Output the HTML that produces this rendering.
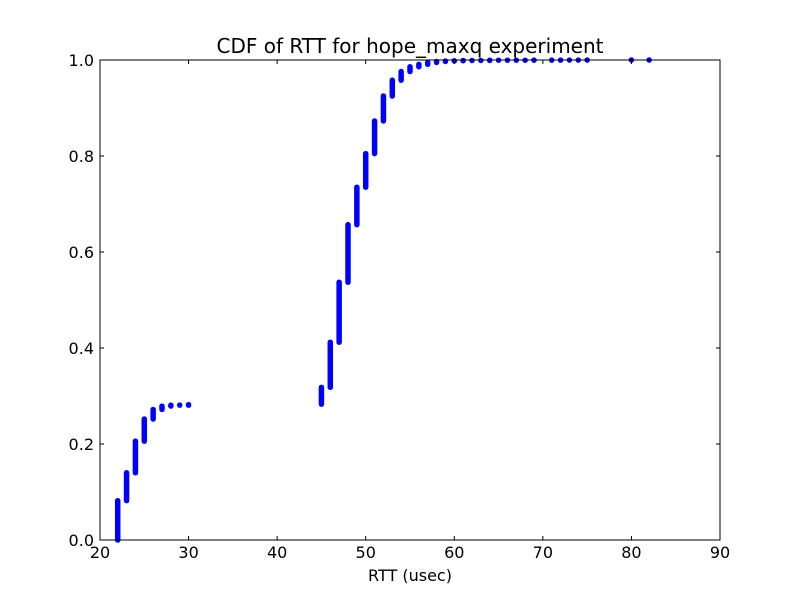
<!DOCTYPE html>
<html><head><style>body{margin:0;background:#fff}svg{display:block}text{font-family:"DejaVu Sans",sans-serif}</style></head>
<body>
<svg id="c" width="800" height="600">
<rect x="0" y="0" width="800" height="600" fill="#fff"/>
<g id="marks"></g>
<rect x="100" y="60" width="620" height="480" fill="none" stroke="#000" stroke-width="1"/>
<g id="ticks"></g>
<text x="410" y="53" font-size="20" text-anchor="middle">CDF of RTT for hope_maxq experiment</text>
<text x="410" y="581" font-size="16" text-anchor="middle">RTT (usec)</text>
</svg>
<script>
const rtt=[22,23,24,25,26,27,28,29,30,45,46,47,48,49,50,51,52,53,54,55,56,57,58,59,60,61,62,63,64,65,66,67,68,69,71,72,73,74,75,80,82];
const cdfLow=[0,0.082,0.14,0.206,0.252,0.272,0.279,0.281,0.281,0.283,0.318,0.412,0.537,0.657,0.735,0.805,0.873,0.925,0.958,0.976,0.986,0.991,0.995,0.997,0.998,0.9985,0.999,0.999,0.999,0.9995,0.9995,0.9995,0.9995,0.9995,0.9997,0.9997,0.9998,0.9998,0.9998,0.9999,1];
const cdfHigh=[0.082,0.14,0.206,0.252,0.272,0.279,0.281,0.281,0.282,0.318,0.412,0.537,0.657,0.735,0.805,0.873,0.925,0.958,0.976,0.986,0.991,0.995,0.997,0.998,0.9985,0.999,0.999,0.999,0.9995,0.9995,0.9995,0.9995,0.9995,0.9997,0.9997,0.9998,0.9998,0.9998,0.9999,1,1];
const xTicks=[20,30,40,50,60,70,80,90];
const yTicks=[0,0.2,0.4,0.6,0.8,1.0];
const NS='http://www.w3.org/2000/svg';
const X=v=>100+(v-20)/70*620, Y=v=>540-v*480;
const m=document.getElementById('marks'), t=document.getElementById('ticks');
function mk(tag,a,p){const e=document.createElementNS(NS,tag);for(const k in a)e.setAttribute(k,a[k]);p.appendChild(e);return e;}
rtt.forEach((r,i)=>{
 const l=mk('line',{x1:X(r),x2:X(r),y1:Y(cdfLow[i]),y2:Y(cdfHigh[i]),stroke:'#0000ff','stroke-width':5.5,'stroke-linecap':'round'},m);
 
 
});
xTicks.forEach(v=>{
 const x=X(v);
 mk('line',{x1:x,x2:x,y1:540,y2:536,stroke:'#000'},t);
 mk('line',{x1:x,x2:x,y1:60,y2:64,stroke:'#000'},t);
 const tx=mk('text',{x:x,y:558,'font-size':16,'text-anchor':'middle'},t);tx.textContent=v;
 
 
});
yTicks.forEach(v=>{
 const y=Y(v);
 mk('line',{x1:100,x2:104,y1:y,y2:y,stroke:'#000'},t);
 mk('line',{x1:716,x2:720,y1:y,y2:y,stroke:'#000'},t);
 const tx=mk('text',{x:94,y:y+6,'font-size':16,'text-anchor':'end'},t);tx.textContent=v.toFixed(1);
 
 
});
</script>
</body></html>
